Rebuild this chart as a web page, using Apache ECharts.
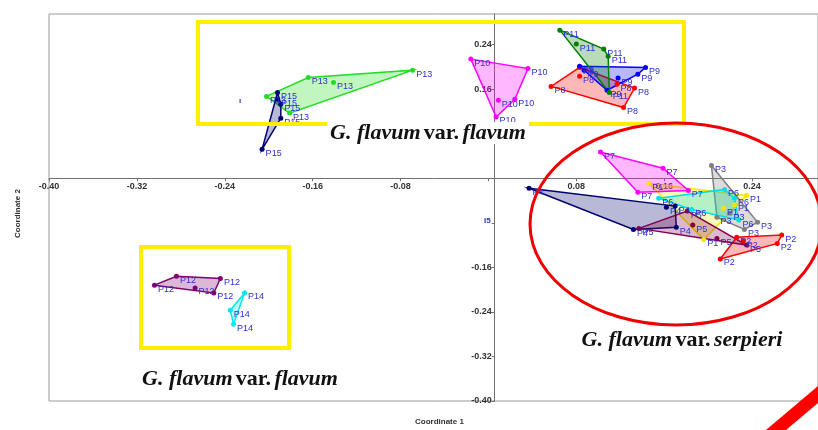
<!DOCTYPE html>
<html><head><meta charset="utf-8">
<script src="https://cdn.jsdelivr.net/npm/echarts@6/dist/echarts.min.js"></script>
<style>html,body{margin:0;padding:0;background:#fff}#c{width:818px;height:430px}</style>
</head><body><div id="c"></div>
<script>
// ---- data (Coordinate 1, Coordinate 2) ----
const P1  = [[0.146,-0.009],[0.214,-0.054],[0.235,-0.031],[0.196,-0.110],[0.224,-0.048]];
const P2  = [[0.226,-0.106],[0.267,-0.102],[0.263,-0.117],[0.211,-0.145],[0.232,-0.113]];
const P3  = [[0.203,0.023],[0.245,-0.079],[0.233,-0.092],[0.208,-0.070],[0.220,-0.063]];
const P4  = [[0.037,-0.018],[0.132,-0.092],[0.162,-0.052],[0.170,-0.050],[0.171,-0.088]];
const P5  = [[0.137,-0.090],[0.181,-0.059],[0.186,-0.084],[0.208,-0.108],[0.235,-0.120]];
const P6  = [[0.155,-0.036],[0.185,-0.056],[0.215,-0.020],[0.228,-0.075],[0.224,-0.036]];
const P7  = [[0.102,0.047],[0.159,0.018],[0.182,-0.022],[0.136,-0.025]];
const P8  = [[0.057,0.165],[0.083,0.199],[0.083,0.183],[0.133,0.162],[0.123,0.127],[0.117,0.169]];
const P9  = [[0.083,0.201],[0.143,0.199],[0.136,0.187],[0.118,0.180],[0.108,0.158],[0.087,0.194]];
const P10 = [[-0.016,0.214],[0.036,0.197],[0.009,0.140],[0.024,0.142],[0.007,0.110]];
const P11 = [[0.065,0.266],[0.080,0.241],[0.105,0.232],[0.109,0.219],[0.110,0.154]];
const P12 = [[-0.304,-0.192],[-0.284,-0.176],[-0.244,-0.180],[-0.250,-0.206],[-0.267,-0.197]];
const P13 = [[-0.202,0.147],[-0.164,0.181],[-0.141,0.172],[-0.069,0.194],[-0.181,0.117]];
const P14 = [[-0.222,-0.206],[-0.235,-0.237],[-0.232,-0.262]];
const P15 = [[-0.192,0.154],[-0.192,0.142],[-0.189,0.133],[-0.189,0.108],[-0.206,0.052]];
const groupNames = ['P1','P2','P3','P4','P5','P6','P7','P8','P9','P10','P11','P12','P13','P14','P15'];
const groupData  = [P1,P2,P3,P4,P5,P6,P7,P8,P9,P10,P11,P12,P13,P14,P15];
const xTicks = {min:-0.40, max:0.30, step:0.08};
const yTicks = {min:-0.40, max:0.295, step:0.08};
const groupTitles = ['G. flavum var. flavum','G. flavum var. flavum','G. flavum var. serpieri'];

// ---- styles ----
const colors = {P1:'#f2e600',P2:'#ff0000',P3:'#808080',P4:'#000070',P5:'#80004a',P6:'#00e0e8',P7:'#ff00ff',
  P8:'#ff0000',P9:'#0000ff',P10:'#ff00ff',P11:'#008000',P12:'#800070',P13:'#22dd22',P14:'#00e8f0',P15:'#000070'};
const G = {left:49, top:14, width:780, height:387};

function hexA(h,a){const n=parseInt(h.slice(1),16);return 'rgba('+(n>>16)+','+((n>>8)&255)+','+(n&255)+','+a+')';}
function hull(pts){
  const p=pts.slice().sort((a,b)=>a[0]-b[0]||a[1]-b[1]);
  const cr=(o,a,b)=>(a[0]-o[0])*(b[1]-o[1])-(a[1]-o[1])*(b[0]-o[0]);
  const lo=[],up=[];
  for(const q of p){while(lo.length>=2&&cr(lo[lo.length-2],lo[lo.length-1],q)<=0)lo.pop();lo.push(q);}
  for(let i=p.length-1;i>=0;i--){const q=p[i];while(up.length>=2&&cr(up[up.length-2],up[up.length-1],q)<=0)up.pop();up.push(q);}
  up.pop();lo.pop();return lo.concat(up);
}
const series=[];
groupNames.forEach((g,i)=>{
  const pts=groupData[i], c=colors[g];
  series.push({type:'custom',name:g+'h',coordinateSystem:'cartesian2d',data:[[pts[0][0],pts[0][1]]],silent:true,z:2,
    renderItem:function(params,api){
      const h=hull(pts).map(p=>api.coord(p));
      return {type:'polygon',shape:{points:h},style:{fill:hexA(c,0.28),stroke:c,lineWidth:1.5}};
    }});
});
groupNames.forEach((g,i)=>{
  series.push({type:'scatter',name:g,data:groupData[i],symbolSize:5,z:4,itemStyle:{color:colors[g],opacity:1},
    label:{show:true,formatter:g,position:'right',distance:1,offset:[0,4],color:'#2e2ed0',fontSize:9,fontFamily:'Arial'}});
});
function fmt(v,hide){if(Math.abs(v)<1e-9)return '';for(const h of hide){if(Math.abs(v-h)<1e-6)return '';}return v.toFixed(2);}
const titleStyle=(x,y,t)=>({type:'text',x:x,y:y,z:50,style:{
  text:'{i|G. flavum} {b|var.} {i|'+t.split('var. ')[1]+'}',align:'center',verticalAlign:'middle',
  rich:{i:{fontFamily:'Liberation Serif',fontStyle:'italic',fontWeight:'bold',fontSize:22,fill:'#111'},
        b:{fontFamily:'Liberation Serif',fontWeight:'bold',fontSize:22,fill:'#111'}},
  backgroundColor:'#fff',padding:[0,3]}});
// offsets that put the axes through the origin
const xZeroPx = G.left + (0 - xTicks.min)/(xTicks.max - xTicks.min)*G.width;
const yZeroPx = G.top + (yTicks.max - 0)/(yTicks.max - yTicks.min)*G.height;
const chart=echarts.init(document.getElementById('c'),null,{renderer:'canvas'});
chart.setOption({
  animation:false,
  backgroundColor:'#fff',
  grid:{left:G.left,top:G.top,width:G.width,height:G.height,show:true,borderColor:'#9a9a9a',borderWidth:1,backgroundColor:'transparent'},
  xAxis:{type:'value',min:xTicks.min,max:xTicks.max,interval:xTicks.step,position:'bottom',offset:-(G.top+G.height-yZeroPx),
    axisLine:{onZero:false,lineStyle:{color:'#707070',width:1}},axisTick:{length:3,lineStyle:{color:'#707070'}},
    splitLine:{show:false},axisLabel:{formatter:v=>fmt(v,[]),showMaxLabel:false,color:'#333',fontSize:9,fontWeight:'bold',fontFamily:'Arial',margin:4}},
  yAxis:{type:'value',min:yTicks.min,max:yTicks.max,interval:yTicks.step,position:'left',offset:-(xZeroPx-G.left),
    axisLine:{onZero:false,lineStyle:{color:'#707070',width:1}},axisTick:{length:3,lineStyle:{color:'#707070'}},
    splitLine:{show:false},axisLabel:{formatter:v=>fmt(v,[-0.08]),showMaxLabel:false,color:'#333',fontSize:9,fontWeight:'bold',fontFamily:'Arial',margin:3}},
  series:series,
  graphic:[
    {type:'rect',z:40,shape:{x:198,y:22,width:486,height:102},style:{fill:null,stroke:'#ffee00',lineWidth:4}},
    {type:'rect',z:40,shape:{x:141,y:247,width:148,height:101},style:{fill:null,stroke:'#ffee00',lineWidth:4}},
    {type:'ellipse',z:40,shape:{cx:676,cy:224,rx:146,ry:101},style:{fill:null,stroke:'#ee0000',lineWidth:3}},
    titleStyle(428,133,groupTitles[0]),
    titleStyle(240,379,groupTitles[1]),
    titleStyle(682,340,groupTitles[2]),
    {type:'text',left:484,top:217,z:45,style:{text:'I5',fill:'#3030c0',font:'bold 8px Arial'}},
    {type:'text',left:239,top:97,z:45,style:{text:'ı',fill:'#3030c0',font:'bold 8px Arial'}},
    {type:'text',left:415,top:418,z:45,style:{text:'Coordinate 1',fill:'#333',font:'bold 8px Arial'}},
    {type:'text',x:14,y:238,rotation:Math.PI/2,z:45,style:{text:'Coordinate 2',fill:'#333',font:'bold 8px Arial'}},
    {type:'polygon',z:45,shape:{points:[[766,430],[818,386],[818,403],[786,430]]},style:{fill:'#ff0000'}}
  ]
});
</script></body></html>
